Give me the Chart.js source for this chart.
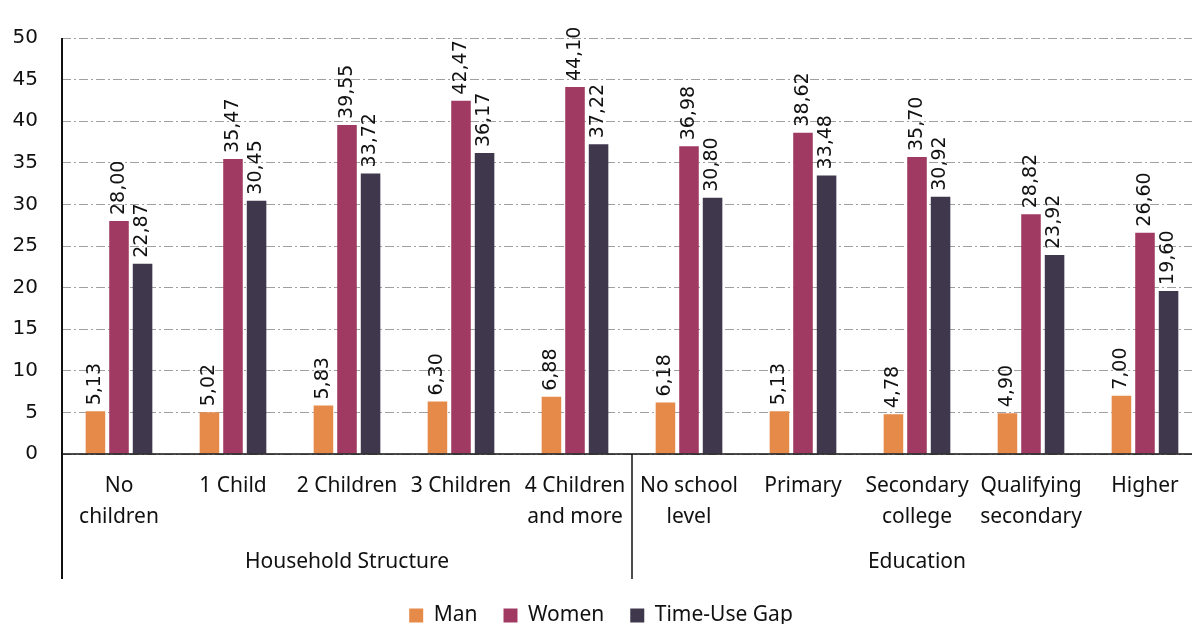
<!DOCTYPE html>
<html>
<head>
<meta charset="utf-8">
<script src="https://cdn.jsdelivr.net/npm/chart.js@4"></script>
<style>
  body { margin: 0; background: #fff; overflow: hidden; }
  /* el lienzo es un poco mayor que la ventana: la ultima columna y la leyenda quedan donde deben */
  #wrap { width: 1202px; height: 636px; }
</style>
</head>
<body>
<div id="wrap"><canvas id="timeUseChart"></canvas></div>
<script>
// categorias del eje x (con saltos de linea)
var categories = [
  ["No", "children"], "1 Child", "2 Children", "3 Children", ["4 Children", "and more"],
  ["No school", "level"], "Primary", ["Secondary", "college"], ["Qualifying", "secondary"], "Higher"
];
var groupNames = ["Household Structure", "Education"];
var groupSizes = [5, 5];

// horas por semana
var manValues = [5.13, 5.02, 5.83, 6.30, 6.88, 6.18, 5.13, 4.78, 4.90, 7.00];
var womenValues = [28.00, 35.47, 39.55, 42.47, 44.10, 36.98, 38.62, 35.70, 28.82, 26.60];
var gapValues = [22.87, 30.45, 33.72, 36.17, 37.22, 30.80, 33.48, 30.92, 23.92, 19.60];

var yMin = 0, yMax = 50, yStep = 5;

function fmt(v) {
  return v.toFixed(2).replace(".", ",");
}

// etiquetas verticales encima de cada barra
var barLabels = {
  id: "barLabels",
  afterDatasetsDraw: function (chart) {
    var ctx = chart.ctx;
    ctx.save();
    ctx.font = '19px "DejaVu Sans", sans-serif';
    ctx.fillStyle = "#111";
    ctx.textAlign = "left";
    ctx.textBaseline = "middle";
    chart.data.datasets.forEach(function (ds, i) {
      chart.getDatasetMeta(i).data.forEach(function (bar, j) {
        ctx.save();
        ctx.translate(bar.x, bar.y - 6);
        ctx.rotate(-Math.PI / 2);
        ctx.fillText(fmt(ds.data[j]), 0, 0);
        ctx.restore();
      });
    });
    ctx.restore();
  }
};

// ejes, separadores y nombres de grupo
var groupAxis = {
  id: "groupAxis",
  afterDraw: function (chart) {
    var ctx = chart.ctx;
    var x = chart.scales.x, y = chart.scales.y;
    var area = chart.chartArea;
    var bottom = x.bottom;
    var half = (x.getPixelForValue(1) - x.getPixelForValue(0)) / 2;
    ctx.save();
    ctx.strokeStyle = "#111";
    ctx.lineWidth = 1.5;
    ctx.beginPath();
    ctx.moveTo(area.left, y.getPixelForValue(0));
    ctx.lineTo(area.right, y.getPixelForValue(0));
    ctx.stroke();
    ctx.lineWidth = 2;
    ctx.beginPath();
    ctx.moveTo(area.left, area.top);
    ctx.lineTo(area.left, bottom);
    ctx.stroke();

    ctx.font = '21px "Noto Sans", sans-serif';
    ctx.fillStyle = "#111";
    ctx.textAlign = "center";
    ctx.textBaseline = "middle";
    var start = 0;
    groupSizes.forEach(function (n, g) {
      var x0 = x.getPixelForValue(start) - half;
      var x1 = x.getPixelForValue(start + n - 1) + half;
      if (g > 0) {
        ctx.lineWidth = 1.5;
        ctx.beginPath();
        ctx.moveTo(x0, area.bottom);
        ctx.lineTo(x0, bottom);
        ctx.stroke();
      }
      ctx.fillText(groupNames[g], (x0 + x1) / 2, bottom - 17);
      start += n;
    });
    ctx.restore();
  }
};

var ctx = document.getElementById("timeUseChart").getContext("2d");

var timeUseChart = new Chart(ctx, {
  type: "bar",
  data: {
    labels: categories,
    datasets: [
      { label: "Man", data: manValues, backgroundColor: "#E68A4A" },
      { label: "Women", data: womenValues, backgroundColor: "#A03A62" },
      { label: "Time-Use Gap", data: gapValues, backgroundColor: "#3F384C" }
    ]
  },
  options: {
    responsive: true,
    maintainAspectRatio: false,
    animation: false,
    datasets: {
      bar: { categoryPercentage: 0.62, barPercentage: 0.83 }
    },
    layout: { padding: { top: 38, left: 0, right: 0, bottom: 0 } },
    plugins: {
      tooltip: { enabled: false },
      legend: {
        position: "bottom",
        labels: {
          boxWidth: 14,
          boxHeight: 14,
          padding: 26,
          color: "#111",
          font: { family: '"Noto Sans", sans-serif', size: 21 }
        }
      }
    },
    scales: {
      x: {
        grid: { display: false },
        border: { display: false },
        ticks: {
          autoSkip: false,
          maxRotation: 0,
          padding: 8,
          color: "#111",
          font: { family: '"Noto Sans", sans-serif', size: 21, lineHeight: 1.48 }
        },
        afterFit: function (scale) { scale.height = 125; }
      },
      y: {
        min: yMin,
        max: yMax,
        grid: { color: "#a0a0a0", lineWidth: 1, drawTicks: false },
        border: { display: false, dash: [9, 3, 2, 3] },
        ticks: {
          stepSize: yStep,
          padding: 24,
          color: "#111",
          font: { family: '"DejaVu Sans", sans-serif', size: 20 }
        },
        afterFit: function (scale) { scale.width = 62; }
      }
    }
  },
  plugins: [barLabels, groupAxis]
});
</script>
</body>
</html>
